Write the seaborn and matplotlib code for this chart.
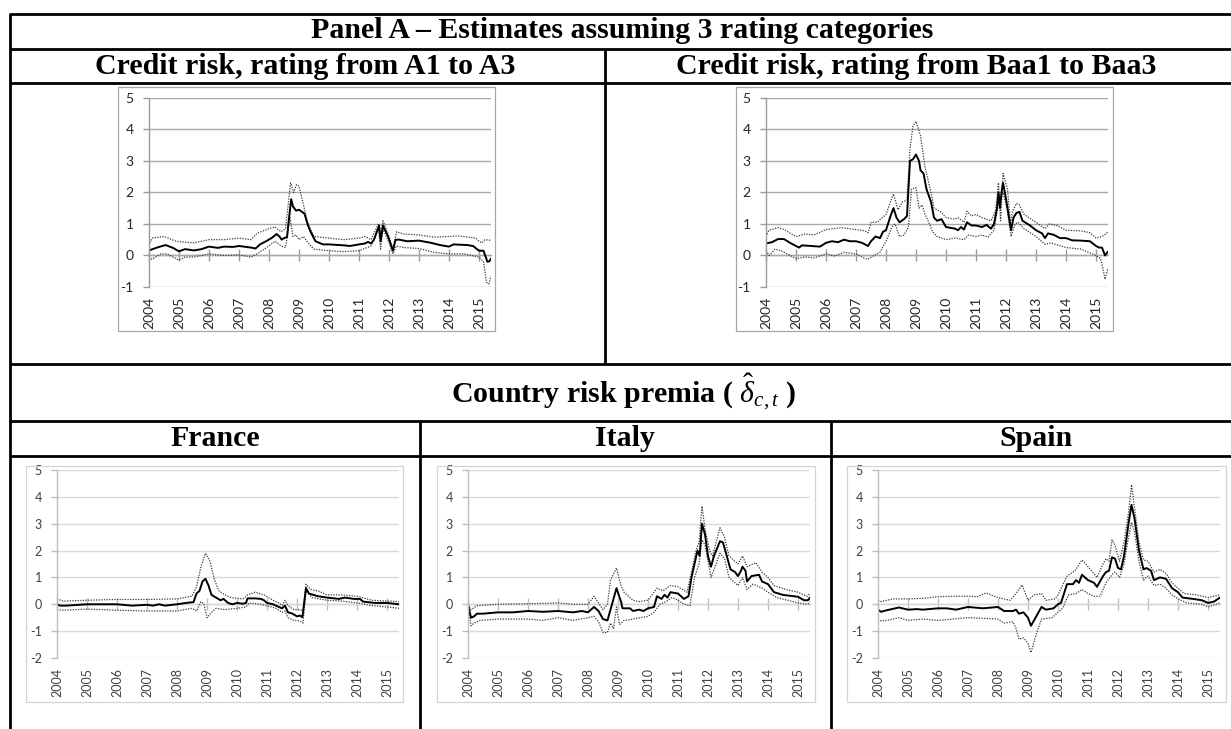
import numpy as np
import pandas as pd
import matplotlib
matplotlib.use("Agg")
import matplotlib.pyplot as plt
from matplotlib.lines import Line2D
from matplotlib.patches import Rectangle
import seaborn as sns

sns.set_theme(style="white")
plt.rcParams['font.family'] = ['Lato', 'DejaVu Sans']
plt.rcParams['mathtext.fontset'] = 'custom'
plt.rcParams['mathtext.rm'] = 'Liberation Serif'
plt.rcParams['mathtext.it'] = 'Liberation Serif:italic'

# ---------------- data (year, value) ----------------
YEARS = list(range(2004, 2016))
YEAR_LABELS = [str(y) for y in YEARS]

A_EST = [(2004.0,0.16),(2004.3,0.26),(2004.55,0.33),(2004.8,0.24),(2005.0,0.13),(2005.2,0.2),(2005.5,0.16),
         (2005.75,0.2),(2006.0,0.28),(2006.3,0.24),(2006.5,0.28),(2006.8,0.27),(2007.0,0.3),(2007.4,0.25),
         (2007.55,0.22),(2007.7,0.35),(2007.9,0.45),(2008.1,0.56),(2008.25,0.68),(2008.35,0.6),(2008.42,0.5),
         (2008.5,0.55),(2008.6,0.58),(2008.67,1.2),(2008.74,1.78),(2008.8,1.55),(2008.9,1.42),(2009.0,1.45),
         (2009.1,1.38),(2009.18,1.33),(2009.3,0.95),(2009.4,0.72),(2009.55,0.45),(2009.8,0.35),(2010.0,0.35),
         (2010.5,0.32),(2010.7,0.3),(2011.0,0.35),(2011.2,0.38),(2011.3,0.43),(2011.4,0.38),(2011.5,0.5),
         (2011.67,0.95),(2011.72,0.45),(2011.8,0.95),(2011.97,0.6),(2012.13,0.15),(2012.22,0.5),(2012.35,0.5),
         (2012.6,0.45),(2013.0,0.47),(2013.4,0.4),(2013.7,0.33),(2014.0,0.28),(2014.15,0.35),(2014.6,0.33),
         (2014.8,0.3),(2015.0,0.15),(2015.15,0.15),(2015.28,-0.2),(2015.35,-0.18),(2015.4,-0.1)]
A_HI = [(2004.0,0.32),(2004.1,0.55),(2004.5,0.6),(2004.9,0.45),(2005.2,0.42),(2005.5,0.4),(2006.0,0.5),
        (2006.5,0.5),(2007.0,0.55),(2007.4,0.5),(2007.6,0.7),(2008.0,0.85),(2008.2,0.9),(2008.4,0.75),
        (2008.55,0.85),(2008.72,2.3),(2008.82,2.0),(2008.92,2.25),(2009.0,2.2),(2009.15,1.6),(2009.3,1.0),
        (2009.5,0.6),(2010.0,0.55),(2010.5,0.5),(2011.0,0.55),(2011.2,0.6),(2011.4,0.5),(2011.65,1.0),
        (2011.72,0.7),(2011.8,1.1),(2012.0,0.6),(2012.13,0.2),(2012.25,0.75),(2012.5,0.68),(2013.0,0.65),
        (2013.5,0.58),(2014.0,0.6),(2014.3,0.62),(2014.9,0.55),(2015.0,0.45),(2015.1,0.4),(2015.2,0.5),
        (2015.4,0.48)]
A_LO = [(2004.0,-0.05),(2004.1,-0.12),(2004.4,0.05),(2004.6,0.05),(2005.0,-0.15),(2005.2,-0.05),(2005.5,-0.05),
        (2006.0,0.05),(2006.5,0.0),(2007.0,0.02),(2007.4,-0.05),(2007.6,0.05),(2008.0,0.3),(2008.2,0.45),
        (2008.4,0.3),(2008.55,0.25),(2008.7,1.2),(2008.8,0.6),(2008.9,0.65),(2009.0,0.5),(2009.15,0.6),
        (2009.3,0.4),(2009.5,0.2),(2010.0,0.15),(2010.5,0.12),(2011.0,0.15),(2011.4,0.3),(2011.65,0.85),
        (2011.72,0.2),(2011.8,0.85),(2012.0,0.4),(2012.13,0.05),(2012.25,0.3),(2012.5,0.25),(2013.0,0.22),
        (2013.5,0.1),(2014.0,0.05),(2014.5,0.05),(2015.0,-0.05),(2015.15,-0.2),(2015.25,-0.85),(2015.33,-0.9),
        (2015.4,-0.65)]

B_EST = [(2004.0,0.38),(2004.2,0.42),(2004.4,0.52),(2004.6,0.52),(2004.8,0.4),(2005.0,0.3),(2005.1,0.25),
         (2005.2,0.32),(2005.5,0.3),(2005.8,0.28),(2006.0,0.4),(2006.2,0.45),(2006.4,0.42),(2006.6,0.5),
         (2006.8,0.45),(2007.0,0.45),(2007.2,0.4),(2007.4,0.3),(2007.5,0.45),(2007.65,0.6),(2007.8,0.55),
         (2007.9,0.75),(2008.0,0.8),(2008.15,1.25),(2008.25,1.5),(2008.35,1.2),(2008.45,1.05),(2008.6,1.15),
         (2008.7,1.25),(2008.8,3.0),(2008.9,3.05),(2009.0,3.2),(2009.1,3.0),(2009.15,2.7),(2009.25,2.6),
         (2009.35,2.1),(2009.5,1.7),(2009.6,1.2),(2009.7,1.1),(2009.85,1.15),(2010.0,0.9),(2010.3,0.85),
         (2010.4,0.8),(2010.5,0.9),(2010.6,0.82),(2010.7,1.05),(2010.85,0.95),(2011.0,0.95),(2011.2,0.9),
         (2011.35,0.97),(2011.5,0.85),(2011.6,1.0),(2011.7,1.5),(2011.75,2.0),(2011.8,1.5),(2011.85,2.0),
         (2011.9,2.3),(2012.0,1.8),(2012.1,1.2),(2012.17,0.8),(2012.25,1.2),(2012.35,1.35),(2012.45,1.38),
         (2012.55,1.1),(2012.8,0.95),(2013.0,0.8),(2013.2,0.7),(2013.3,0.55),(2013.4,0.7),(2013.6,0.65),
         (2013.8,0.55),(2014.0,0.55),(2014.2,0.48),(2014.5,0.47),(2014.8,0.45),(2015.0,0.3),(2015.1,0.25),
         (2015.2,0.25),(2015.3,0.0),(2015.4,0.12)]
B_HI = [(2004.0,0.6),(2004.1,0.8),(2004.4,0.88),(2004.6,0.82),(2005.0,0.6),(2005.3,0.68),(2005.6,0.65),
        (2006.0,0.82),(2006.5,0.88),(2007.0,0.82),(2007.3,0.78),(2007.4,0.72),(2007.5,1.05),(2007.7,1.05),
        (2008.0,1.3),(2008.15,1.7),(2008.25,1.95),(2008.4,1.45),(2008.55,1.7),(2008.7,1.75),(2008.8,3.4),
        (2008.9,4.1),(2009.0,4.25),(2009.15,3.8),(2009.3,2.8),(2009.5,2.0),(2009.6,1.5),(2009.8,1.4),
        (2010.0,1.2),(2010.3,1.15),(2010.4,1.2),(2010.6,1.05),(2010.7,1.4),(2010.85,1.25),(2011.0,1.3),
        (2011.2,1.2),(2011.5,1.1),(2011.65,1.4),(2011.75,2.3),(2011.82,1.1),(2011.9,2.6),(2012.05,2.1),
        (2012.15,1.0),(2012.22,1.4),(2012.35,1.65),(2012.45,1.6),(2012.6,1.3),(2013.0,1.05),(2013.3,0.85),
        (2013.45,1.0),(2013.7,0.95),(2014.0,0.8),(2014.5,0.78),(2014.8,0.72),(2015.0,0.55),(2015.2,0.6),
        (2015.35,0.7),(2015.4,0.75)]
B_LO = [(2004.0,0.15),(2004.1,0.0),(2004.3,0.2),(2004.5,0.15),(2004.8,0.0),(2005.0,-0.1),(2005.3,-0.05),
        (2005.6,-0.08),(2006.0,0.05),(2006.3,-0.02),(2006.6,0.1),(2007.0,0.05),(2007.3,-0.1),(2007.4,-0.12),
        (2007.6,0.0),(2007.8,0.1),(2008.0,0.45),(2008.2,0.9),(2008.3,1.0),(2008.45,0.6),(2008.6,0.65),
        (2008.75,0.9),(2008.85,2.1),(2009.0,2.15),(2009.1,1.5),(2009.2,1.6),(2009.3,1.3),(2009.45,1.0),
        (2009.55,0.75),(2009.7,0.6),(2010.0,0.5),(2010.3,0.55),(2010.6,0.5),(2010.75,0.65),(2011.0,0.6),
        (2011.2,0.65),(2011.4,0.58),(2011.6,0.8),(2011.75,1.7),(2011.82,1.8),(2011.9,2.0),(2012.05,1.4),
        (2012.17,0.6),(2012.3,1.0),(2012.4,1.05),(2012.6,0.85),(2013.0,0.6),(2013.3,0.35),(2013.5,0.4),
        (2014.0,0.25),(2014.5,0.2),(2015.0,0.0),(2015.15,-0.1),(2015.25,-0.5),(2015.3,-0.75),(2015.4,-0.4)]

FR_EST = [(2004.0,0.0),(2004.1,-0.05),(2004.3,-0.05),(2005.0,0.0),(2006.0,0.0),(2006.5,-0.05),(2007.0,-0.02),
          (2007.2,-0.05),(2007.4,0.0),(2007.6,-0.05),(2008.0,0.0),(2008.3,0.05),(2008.55,0.08),(2008.65,0.4),
          (2008.75,0.5),(2008.85,0.85),(2008.95,0.95),(2009.05,0.7),(2009.15,0.35),(2009.3,0.25),
          (2009.45,0.15),(2009.55,0.2),(2009.7,0.05),(2009.85,0.0),(2010.0,0.05),(2010.2,0.02),(2010.3,0.05),
          (2010.35,0.22),(2010.6,0.22),(2010.8,0.2),(2010.9,0.15),(2011.0,0.05),(2011.2,0.0),(2011.4,-0.1),
          (2011.5,-0.15),(2011.6,-0.05),(2011.7,-0.3),(2011.85,-0.35),(2012.0,-0.45),(2012.1,-0.42),
          (2012.18,-0.48),(2012.3,0.6),(2012.4,0.4),(2012.7,0.3),(2013.0,0.25),(2013.4,0.2),(2013.6,0.25),
          (2013.9,0.2),(2014.1,0.2),(2014.2,0.1),(2014.6,0.05),(2015.0,0.05),(2015.4,0.0)]
FR_HI = [(2004.0,0.2),(2004.2,0.12),(2005.0,0.15),(2006.0,0.18),(2007.0,0.18),(2008.0,0.2),(2008.5,0.3),
         (2008.65,0.65),(2008.8,1.4),(2008.95,1.9),(2009.1,1.6),(2009.25,0.9),(2009.4,0.5),(2009.6,0.35),
         (2009.8,0.25),(2010.2,0.2),(2010.35,0.35),(2010.6,0.45),(2010.9,0.35),(2011.2,0.15),(2011.4,0.05),
         (2011.5,-0.05),(2011.6,0.15),(2011.7,-0.05),(2011.9,-0.2),(2012.1,-0.2),(2012.2,-0.25),(2012.3,0.75),
         (2012.45,0.55),(2012.7,0.5),(2013.0,0.35),(2013.5,0.35),(2014.0,0.3),(2014.5,0.15),(2015.0,0.12),
         (2015.4,0.1)]
FR_LO = [(2004.0,-0.2),(2004.2,-0.22),(2005.0,-0.18),(2006.0,-0.22),(2007.0,-0.25),(2008.0,-0.25),(2008.5,-0.15),
         (2008.65,-0.25),(2008.8,0.1),(2008.9,0.0),(2009.0,-0.5),(2009.15,-0.3),(2009.3,-0.15),(2009.6,-0.2),
         (2010.0,-0.15),(2010.3,-0.1),(2010.4,0.05),(2010.8,0.0),(2011.0,-0.05),(2011.3,-0.15),(2011.5,-0.3),
         (2011.6,-0.25),(2011.7,-0.5),(2011.9,-0.6),(2012.1,-0.62),(2012.2,-0.7),(2012.3,0.5),(2012.5,0.25),
         (2013.0,0.15),(2013.5,0.12),(2014.0,0.05),(2014.5,-0.05),(2015.0,-0.1),(2015.4,-0.15)]

IT_EST = [(2004.0,0.0),(2004.1,-0.5),(2004.2,-0.45),(2004.3,-0.35),(2004.5,-0.35),(2005.0,-0.3),(2005.5,-0.3),
          (2006.0,-0.25),(2006.5,-0.28),(2007.0,-0.25),(2007.5,-0.3),(2007.8,-0.25),(2008.0,-0.3),
          (2008.2,-0.1),(2008.35,-0.25),(2008.5,-0.55),(2008.65,-0.6),(2008.75,-0.2),(2008.95,0.6),
          (2009.1,0.1),(2009.15,-0.15),(2009.4,-0.15),(2009.5,-0.25),(2009.7,-0.2),(2009.85,-0.25),
          (2010.0,-0.15),(2010.2,-0.1),(2010.3,0.3),(2010.45,0.2),(2010.55,0.35),(2010.65,0.25),(2010.75,0.45),
          (2011.0,0.4),(2011.2,0.2),(2011.35,0.3),(2011.45,1.0),(2011.55,1.5),(2011.65,2.0),(2011.72,1.8),
          (2011.8,3.0),(2011.9,2.6),(2012.0,1.8),(2012.1,1.4),(2012.2,1.8),(2012.4,2.35),(2012.5,2.3),
          (2012.6,1.9),(2012.75,1.3),(2012.9,1.2),(2013.0,1.05),(2013.1,1.25),(2013.15,1.4),(2013.25,1.25),
          (2013.3,0.85),(2013.45,1.05),(2013.7,1.1),(2013.8,0.85),(2014.0,0.75),(2014.2,0.45),(2014.5,0.35),
          (2015.0,0.28),(2015.2,0.15),(2015.33,0.15),(2015.4,0.25)]
IT_HI = [(2004.0,0.0),(2004.1,-0.2),(2004.3,-0.05),(2005.0,0.0),(2006.0,0.02),(2007.0,0.05),(2007.5,0.0),
         (2008.0,0.0),(2008.2,0.3),(2008.35,0.05),(2008.5,-0.2),(2008.65,0.0),(2008.75,0.9),(2008.95,1.35),
         (2009.1,0.7),(2009.2,0.45),(2009.5,0.15),(2009.7,0.1),(2010.0,0.15),(2010.3,0.6),(2010.5,0.5),
         (2010.75,0.7),(2011.0,0.65),(2011.3,0.45),(2011.45,1.2),(2011.6,2.0),(2011.7,2.3),(2011.8,3.65),
         (2011.9,2.8),(2012.05,2.0),(2012.15,1.8),(2012.4,2.85),(2012.55,2.5),(2012.7,1.8),(2013.0,1.5),
         (2013.15,1.8),(2013.3,1.4),(2013.6,1.55),(2013.8,1.2),(2014.0,1.0),(2014.2,0.7),(2014.6,0.55),
         (2015.0,0.45),(2015.3,0.3),(2015.4,0.4)]
IT_LO = [(2004.0,0.0),(2004.1,-0.8),(2004.2,-0.7),(2004.4,-0.6),(2005.0,-0.55),(2006.0,-0.55),(2006.5,-0.6),
         (2007.0,-0.5),(2007.5,-0.6),(2008.0,-0.5),(2008.2,-0.45),(2008.35,-0.65),(2008.5,-1.05),
         (2008.65,-1.05),(2008.75,-0.7),(2008.85,-0.9),(2008.95,-0.1),(2009.05,-0.75),(2009.2,-0.6),
         (2009.5,-0.55),(2010.0,-0.45),(2010.2,-0.3),(2010.4,0.0),(2010.6,0.1),(2010.8,0.25),(2011.0,0.15),
         (2011.2,0.0),(2011.4,-0.05),(2011.55,1.0),(2011.7,1.5),(2011.8,2.4),(2011.9,2.2),(2012.1,1.0),
         (2012.4,1.9),(2012.55,1.7),(2012.7,1.0),(2013.0,0.7),(2013.15,1.0),(2013.3,0.55),(2013.5,0.75),
         (2013.8,0.6),(2014.0,0.45),(2014.3,0.25),(2015.0,0.05),(2015.33,0.0),(2015.4,0.1)]

ES_EST = [(2004.0,-0.2),(2004.1,-0.28),(2004.3,-0.22),(2004.7,-0.12),(2005.0,-0.2),(2005.3,-0.18),(2005.5,-0.2),
          (2006.0,-0.15),(2006.3,-0.15),(2006.6,-0.2),(2007.0,-0.1),(2007.5,-0.15),(2008.0,-0.1),
          (2008.2,-0.25),(2008.5,-0.25),(2008.6,-0.2),(2008.7,-0.35),(2008.85,-0.3),(2009.0,-0.5),
          (2009.1,-0.8),(2009.25,-0.5),(2009.45,-0.1),(2009.6,-0.2),(2009.85,-0.15),(2010.0,0.0),(2010.1,0.05),
          (2010.3,0.75),(2010.5,0.75),(2010.6,0.9),(2010.7,0.8),(2010.8,1.1),(2011.0,0.9),(2011.2,0.8),
          (2011.3,0.65),(2011.5,1.05),(2011.6,1.2),(2011.7,1.25),(2011.8,1.75),(2011.9,1.7),(2012.0,1.35),
          (2012.1,1.3),(2012.2,1.8),(2012.35,3.0),(2012.45,3.7),(2012.55,3.2),(2012.7,2.0),(2012.85,1.3),
          (2012.95,1.35),(2013.1,1.25),(2013.2,0.9),(2013.4,1.0),(2013.6,0.95),(2013.8,0.6),(2014.0,0.45),
          (2014.15,0.25),(2014.5,0.2),(2014.8,0.15),(2015.0,0.05),(2015.2,0.1),(2015.4,0.25)]
ES_HI = [(2004.0,0.15),(2004.1,0.1),(2004.5,0.2),(2005.0,0.2),(2005.5,0.22),(2006.0,0.28),(2006.5,0.3),
         (2007.0,0.3),(2007.3,0.28),(2007.6,0.42),(2008.0,0.25),(2008.4,0.15),(2008.6,0.4),(2008.8,0.72),
         (2009.0,0.15),(2009.2,0.35),(2009.45,0.4),(2009.6,0.15),(2009.9,0.2),(2010.0,0.35),(2010.3,1.05),
         (2010.5,1.2),(2010.6,1.3),(2010.8,1.65),(2011.0,1.4),(2011.3,1.0),(2011.5,1.5),(2011.6,1.7),
         (2011.7,1.6),(2011.8,2.4),(2011.9,2.2),(2012.05,1.6),(2012.2,2.3),(2012.35,3.4),(2012.45,4.45),
         (2012.55,3.6),(2012.7,2.3),(2012.85,1.65),(2013.0,1.6),(2013.2,1.2),(2013.4,1.3),(2013.6,1.15),
         (2013.8,0.8),(2014.0,0.6),(2014.2,0.4),(2014.6,0.35),(2015.0,0.25),(2015.4,0.35)]
ES_LO = [(2004.0,-0.55),(2004.1,-0.62),(2004.3,-0.6),(2004.7,-0.5),(2005.0,-0.6),(2005.5,-0.55),(2006.0,-0.6),
         (2006.5,-0.55),(2007.0,-0.5),(2007.5,-0.52),(2008.0,-0.55),(2008.2,-0.7),(2008.5,-0.65),(2008.6,-0.9),
         (2008.7,-1.3),(2008.85,-1.25),(2009.0,-1.45),(2009.1,-1.8),(2009.25,-1.2),(2009.45,-0.55),
         (2009.8,-0.5),(2010.0,-0.3),(2010.15,-0.15),(2010.35,0.35),(2010.6,0.4),(2010.8,0.55),(2011.0,0.4),
         (2011.2,0.3),(2011.4,0.3),(2011.6,0.8),(2011.8,1.1),(2011.9,1.2),(2012.05,1.0),(2012.2,1.5),
         (2012.35,2.5),(2012.45,3.05),(2012.55,2.7),(2012.7,1.6),(2012.85,0.9),(2013.0,1.05),(2013.2,0.7),
         (2013.4,0.75),(2013.6,0.6),(2013.8,0.35),(2014.0,0.2),(2014.3,0.05),(2014.8,0.0),(2015.0,-0.1),
         (2015.4,0.05)]

PANEL_TITLE = "Panel A \u2013 Estimates assuming 3 rating categories"
COL_TITLES_TOP = ["Credit risk, rating from A1 to A3", "Credit risk, rating from Baa1 to Baa3"]
MID_TITLE = r"Country risk premia ( $\hat{\delta}_{c,t}$ )"
COL_TITLES_BOT = ["France", "Italy", "Spain"]

# ---------------- layout ----------------
W, H = 1231, 729
fig = plt.figure(figsize=(W / 100, H / 100), dpi=100)
fig.patch.set_facecolor("white")


def fx(x):
    return x / W


def fy(y):
    return 1 - y / H


def hline(y, x0, x1, lw=2.0):
    fig.add_artist(Line2D([fx(x0), fx(x1)], [fy(y), fy(y)], color="black", lw=lw,
                          transform=fig.transFigure, solid_capstyle="butt"))


def vline(x, y0, y1, lw=2.0):
    fig.add_artist(Line2D([fx(x), fx(x)], [fy(y0), fy(y1)], color="black", lw=lw,
                          transform=fig.transFigure, solid_capstyle="butt"))


# table rules
for yy in (14, 49, 83, 364, 421, 456):
    hline(yy, 10, W + 5)
vline(10, 13, H + 5)
vline(605, 49, 364)
vline(420, 421, H + 5)
vline(831, 421, H + 5)

hdr = dict(family="Liberation Serif", fontweight="bold", fontsize=21.5, ha="center", va="center",
           color="black")
fig.text(fx(622), fy(31), PANEL_TITLE, **hdr)
fig.text(fx(305), fy(66), COL_TITLES_TOP[0], **hdr)
fig.text(fx(916), fy(66), COL_TITLES_TOP[1], **hdr)
fig.text(fx(624), fy(392), MID_TITLE, **hdr)
fig.text(fx(215), fy(439), COL_TITLES_BOT[0], **hdr)
fig.text(fx(625), fy(439), COL_TITLES_BOT[1], **hdr)
fig.text(fx(1036), fy(439), COL_TITLES_BOT[2], **hdr)


def chart(frame, plot, ylim, series, dark, fs):
    fr_x0, fr_y0, fr_x1, fr_y1 = frame
    fig.add_artist(Rectangle((fx(fr_x0), fy(fr_y1)), fx(fr_x1) - fx(fr_x0), fy(fr_y0) - fy(fr_y1),
                             transform=fig.transFigure, fill=False,
                             edgecolor="#a6a6a6" if dark else "#d4d4d4", lw=0.9))
    x0, y0, x1, y1 = plot
    ax = fig.add_axes([fx(x0), fy(y1), fx(x1) - fx(x0), fy(y0) - fy(y1)])
    ax.set_facecolor("none")
    est, hi, lo = series
    for pts, kw in ((hi, dict(color="#3a3a3a", lw=0.9, ls=(0, (1, 1.1)))),
                    (lo, dict(color="#3a3a3a", lw=0.9, ls=(0, (1, 1.1)))),
                    (est, dict(color="black", lw=1.4, ls="-"))):
        df = pd.DataFrame(pts, columns=["date", "value"])
        sns.lineplot(data=df, x="date", y="value", ax=ax, estimator=None, sort=False,
                     color=kw["color"], lw=kw["lw"], linestyle=kw["ls"])
    ax.set_xlim(2004, 2015.4)
    ax.set_ylim(*ylim)
    ax.set_yticks(range(ylim[0], ylim[1] + 1))
    ax.set_yticklabels([str(v) for v in range(ylim[0], ylim[1] + 1)])
    ax.set_xticks(YEARS)
    ax.set_xticklabels(YEAR_LABELS, rotation=90)
    ax.set_xlabel("")
    ax.set_ylabel("")
    gcol = "#a9a9a9" if dark else "#d9d9d9"
    ax.grid(axis="y", color=gcol, lw=1.0)
    ax.grid(axis="x", visible=False)
    for s in ("top", "right", "bottom"):
        ax.spines[s].set_visible(False)
    acol = "#9a9a9a" if dark else "#bdbdbd"
    ax.spines["left"].set_color(acol)
    ax.spines["left"].set_linewidth(1.0)
    lab = "#262626" if dark else "#404040"
    ax.tick_params(axis="y", direction="out", length=4, width=1.0, color=acol, pad=7,
                   labelsize=fs, labelcolor=lab, left=True)
    ax.tick_params(axis="x", length=0, pad=7, labelsize=fs, labelcolor=lab, bottom=True)
    # zero-crossing category axis with tick marks
    zero = (0 - ylim[0]) / (ylim[1] - ylim[0])
    sec = ax.secondary_xaxis(zero)
    sec.set_xticks(YEARS)
    sec.set_xticklabels([])
    sec.tick_params(direction="inout", length=8, width=1.0, color=acol)
    for s in sec.spines.values():
        s.set_color(acol)
        s.set_linewidth(1.0)
    return ax


chart((118, 87, 495, 331), (149, 97.7, 491, 287), (-1, 5), (A_EST, A_HI, A_LO), True, 10)
chart((736, 87, 1113, 331), (766, 97.7, 1108, 287), (-1, 5), (B_EST, B_HI, B_LO), True, 10)
chart((26, 466, 403, 702), (57, 470, 399, 658), (-2, 5), (FR_EST, FR_HI, FR_LO), False, 9)
chart((437, 466, 815, 702), (468, 470, 810, 658), (-2, 5), (IT_EST, IT_HI, IT_LO), False, 9)
chart((847, 466, 1226, 702), (878, 470, 1220, 658), (-2, 5), (ES_EST, ES_HI, ES_LO), False, 9)

fig.savefig("out.png", dpi=100, facecolor="white")
